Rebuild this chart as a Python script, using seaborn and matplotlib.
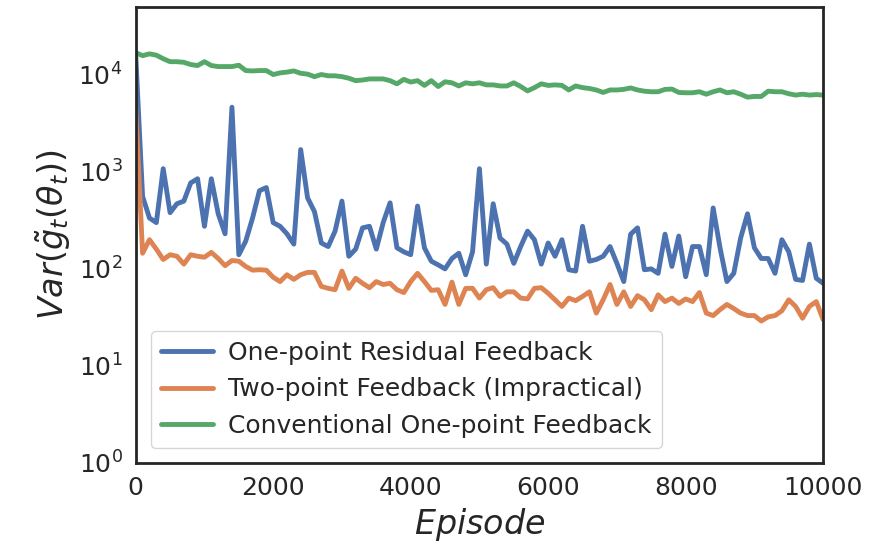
import numpy as np
import pandas as pd
import matplotlib
matplotlib.use("Agg")
import matplotlib.pyplot as plt
import seaborn as sns

# values, one point every 100 episodes
episodes = list(range(0, 10001, 100))

residual = [16000, 560, 335, 300, 1080, 380, 470, 500, 770, 850,
            275, 850, 370, 230, 4650, 140, 193, 335, 640, 690,
            300, 275, 230, 180, 1700, 540, 390, 185, 170, 245,
            500, 135, 160, 265, 275, 160, 300, 480, 165, 150,
            140, 445, 165, 120, 110, 100, 128, 145, 87, 150,
            1080, 112, 470, 208, 180, 114, 170, 245, 200, 112,
            185, 135, 200, 98, 95, 275, 120, 125, 135, 170,
            114, 74, 228, 265, 98, 100, 90, 228, 106, 218,
            83, 170, 170, 87, 425, 165, 74, 90, 208, 370,
            165, 128, 128, 90, 200, 150, 78, 76, 180, 80,
            71]

two_point = [4500, 145, 200, 160, 125, 140, 135, 112, 140, 135,
             132, 148, 128, 108, 122, 120, 106, 97, 98, 97,
             82, 74, 87, 78, 87, 92, 92, 66, 63, 61,
             95, 63, 80, 71, 64, 74, 69, 71, 61, 57,
             74, 90, 74, 60, 61, 43, 73, 43, 63, 63,
             50, 61, 64, 52, 58, 58, 50, 49, 63, 64,
             56, 48, 41, 50, 47, 52, 58, 35, 48, 69,
             43, 58, 41, 53, 48, 38, 54, 46, 50, 44,
             49, 46, 57, 35, 33, 38, 43, 39, 35, 33,
             33, 29, 32, 33, 37, 48, 41, 31, 41, 46,
             30]

conventional = [17000, 15800, 16500, 16000, 14700, 13700, 13700, 13500, 12800, 12500,
                13700, 12500, 12200, 12200, 12200, 12600, 11100, 11000, 11100, 11100,
                10100, 10500, 10700, 11000, 10400, 10200, 9600, 10100, 9800, 9800,
                9600, 9250, 8730, 8870, 9100, 9100, 9100, 8730, 8100, 9000,
                8450, 8730, 7800, 8730, 7600, 8500, 8300, 7700, 8300, 8100,
                8300, 7900, 7900, 7700, 7700, 8300, 7600, 6850, 7400, 8100,
                7800, 7900, 7800, 7000, 7700, 7400, 7250, 7000, 6600, 7000,
                7000, 7100, 7350, 7000, 6800, 6710, 6710, 7100, 7150, 6600,
                6550, 6550, 6710, 6330, 6710, 7000, 6550, 6710, 6330, 5900,
                6000, 6000, 6800, 6710, 6710, 6400, 6200, 6330, 6200, 6270,
                6200]

labels = ["One-point Residual Feedback",
          "Two-point Feedback (Impractical)",
          "Conventional One-point Feedback"]

# long format table for seaborn
df = pd.concat([
    pd.DataFrame({"Episode": episodes, "Var": residual, "Method": labels[0]}),
    pd.DataFrame({"Episode": episodes, "Var": two_point, "Method": labels[1]}),
    pd.DataFrame({"Episode": episodes, "Var": conventional, "Method": labels[2]}),
])

sns.set_theme(style="white", palette="deep")
plt.rcParams["font.family"] = ["DejaVu Sans"]

fig, ax = plt.subplots(figsize=(8.87, 5.51), dpi=100)
fig.subplots_adjust(left=0.153, right=0.928, top=0.987, bottom=0.16)

sns.lineplot(data=df, x="Episode", y="Var", hue="Method", hue_order=labels,
             linewidth=3.5, ax=ax)

ax.set_yscale("log")
ax.set_ylim(1, 5e4)
ax.set_xlim(0, 10000)
ax.set_xticks([0, 2000, 4000, 6000, 8000, 10000])
ax.tick_params(axis="both", labelsize=18, colors="#262626")
ax.minorticks_off()

ax.set_xlabel("$\\mathit{Episode}$", fontsize=24, color="#262626")
ax.set_ylabel("$Var(\\tilde{g}_t(\\theta_t))$", fontsize=24, color="#262626")

for s in ax.spines.values():
    s.set_linewidth(2)
    s.set_color("#262626")

handles, labs = ax.get_legend_handles_labels()
ax.legend(handles, labs, loc="lower left", fontsize=18, title=None,
          handlelength=2.1, handletextpad=0.6, borderaxespad=0.6)

fig.savefig("out.png", dpi=100)
